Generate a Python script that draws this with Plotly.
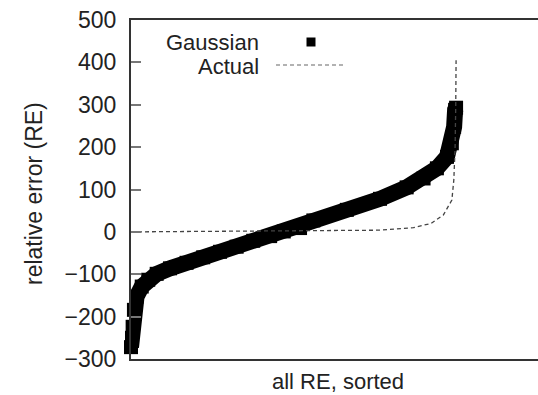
import plotly.graph_objects as go

# Gaussian relative errors, sorted (rank, RE)
gauss_rank = [0, 3, 5, 9, 17, 33, 53, 79, 120, 171, 222, 274, 325, 376, 428,
              470, 520, 561, 664, 766, 848, 900, 941, 972, 987, 994, 997, 1000]
gauss_re = [-272, -250, -224, -184, -153, -129, -113, -99, -86, -73, -60, -47, -35, -21, -10,
            1, 9, 27, 52, 78, 105, 126, 150, 177, 209, 248, 288, 293]

# Actual relative errors, sorted
actual_rank = [0, 300, 602, 766, 869, 923, 961, 987, 993, 997, 999, 1000]
actual_re = [0, 1, 3, 4, 10, 20, 40, 75, 122, 200, 300, 405]

y_ticks = [-300, -200, -100, 0, 100, 200, 300, 400, 500]
series_names = ["Gaussian", "Actual"]

W, H = 538, 395
ML, MR, MT, MB = 131, 0, 20, 36
PW, PH = W - ML - MR, H - MT - MB


def px(x):
    return (x - ML) / PW


def py(y):
    return (H - MB - y) / PH


FONT = "Liberation Sans, Arial, Helvetica, sans-serif"

fig = go.Figure()
fig.add_trace(go.Scatter(
    x=gauss_rank, y=gauss_re, mode="lines+markers", name=series_names[0],
    line=dict(color="black", width=16),
    marker=dict(symbol="square", size=14, color="black", line=dict(width=0)),
    cliponaxis=False, showlegend=False))
fig.add_trace(go.Scatter(
    x=actual_rank, y=actual_re, mode="lines", name=series_names[1],
    line=dict(color="#444444", width=1.3, dash="4px,3px"),
    showlegend=False))

# hand-made gnuplot-style key
fig.add_annotation(x=px(261), y=py(42), xref="paper", yref="paper", text=series_names[0],
                   showarrow=False, xanchor="right", yanchor="middle",
                   font=dict(family=FONT, size=22, color="#222"))
fig.add_annotation(x=px(261), y=py(66), xref="paper", yref="paper", text=series_names[1],
                   showarrow=False, xanchor="right", yanchor="middle",
                   font=dict(family=FONT, size=22, color="#222"))
fig.add_shape(type="rect", xref="paper", yref="paper",
              x0=px(306.5), x1=px(315.5), y0=py(46.5), y1=py(37.5),
              fillcolor="black", line=dict(width=0))
fig.add_shape(type="line", xref="paper", yref="paper",
              x0=px(276), x1=px(345), y0=py(65), y1=py(65),
              line=dict(color="#999999", width=1.3, dash="4px,3px"))

# axis titles
fig.add_annotation(x=px(34), y=py(194), xref="paper", yref="paper",
                   text="relative error (RE)", textangle=-90, showarrow=False,
                   xanchor="center", yanchor="middle",
                   font=dict(family=FONT, size=23, color="#222"))
fig.add_annotation(x=px(338), y=py(381), xref="paper", yref="paper",
                   text="all RE, sorted", showarrow=False,
                   xanchor="center", yanchor="middle",
                   font=dict(family=FONT, size=22, color="#222"))

fig.update_layout(
    width=W, height=H, margin=dict(l=ML, r=MR, t=MT, b=MB),
    paper_bgcolor="white", plot_bgcolor="white", showlegend=False,
    xaxis=dict(range=[0, 1252], showgrid=False, zeroline=False, showticklabels=False,
               ticks="", showline=True, mirror=True, linecolor="#333", linewidth=2),
    yaxis=dict(range=[-300, 500], tickvals=y_ticks, showgrid=False, zeroline=False,
               ticks="inside", ticklen=10, tickwidth=1.5, tickcolor="#777",
               showline=True, linecolor="#333", linewidth=2, mirror=False,
               ticklabelstandoff=8,
               tickfont=dict(family=FONT, size=23, color="#222")),
    yaxis2=dict(range=[-300, 500], overlaying="y", side="right", tickvals=y_ticks,
                ticks="inside", ticklen=3, tickwidth=1.5, tickcolor="#777",
                showticklabels=False, showline=False, showgrid=False, zeroline=False),
)

fig.write_html("out.html")
